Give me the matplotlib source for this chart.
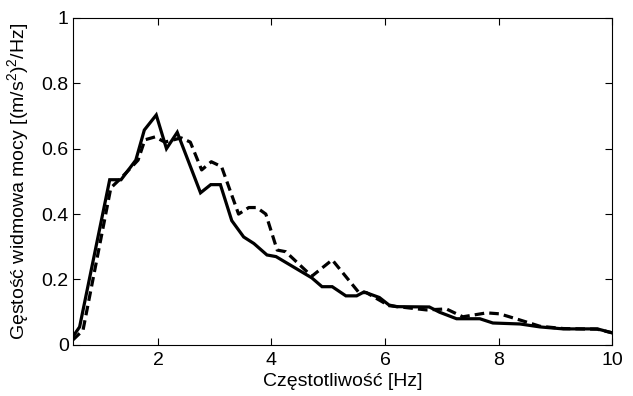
import numpy as np
import matplotlib
matplotlib.use('Agg')
import matplotlib.pyplot as plt

plt.rcParams['font.family'] = ['Liberation Sans', 'DejaVu Sans']
plt.rcParams['mathtext.fontset'] = 'custom'
plt.rcParams['mathtext.rm'] = 'Liberation Sans'
plt.rcParams['mathtext.it'] = 'Liberation Sans'

# solid curve
f_solid = [0.5, 0.62, 1.15, 1.35, 1.61, 1.76, 1.97, 2.15, 2.34, 2.75, 2.93, 3.1,
           3.3, 3.51, 3.69, 3.92, 4.08, 4.71, 4.89, 5.07, 5.31, 5.5, 5.63, 5.9,
           6.07, 6.2, 6.78, 6.96, 7.26, 7.67, 7.9, 8.38, 8.73, 9.14, 9.74, 10.0]
p_solid = [0.025, 0.055, 0.505, 0.505, 0.565, 0.657, 0.703, 0.60, 0.65, 0.465, 0.49, 0.49,
           0.38, 0.33, 0.31, 0.275, 0.27, 0.205, 0.178, 0.178, 0.15, 0.15, 0.162, 0.145,
           0.122, 0.117, 0.116, 0.10, 0.08, 0.08, 0.067, 0.064, 0.055, 0.049, 0.049, 0.037]

# dashed curve
f_dash = [0.5, 0.68, 1.17, 1.35, 1.65, 1.77, 1.95, 2.12, 2.41, 2.57, 2.77, 2.94, 3.12,
          3.42, 3.6, 3.74, 3.9, 4.1, 4.25, 4.71, 5.07, 5.54, 5.67, 6.07, 6.73, 7.08,
          7.37, 7.79, 8.02, 8.38, 8.73, 9.14, 9.74, 10.0]
p_dash = [0.015, 0.045, 0.48, 0.51, 0.565, 0.627, 0.636, 0.62, 0.633, 0.62, 0.535, 0.56, 0.545,
          0.40, 0.42, 0.42, 0.40, 0.29, 0.285, 0.21, 0.26, 0.16, 0.16, 0.12, 0.107, 0.11,
          0.086, 0.098, 0.095, 0.076, 0.057, 0.05, 0.048, 0.037]

fig = plt.figure(figsize=(6.33, 3.96), dpi=100)
ax = fig.add_axes([0.115, 0.129, 0.852, 0.826])
ax.plot(f_solid, p_solid, color='black', lw=2.3, solid_joinstyle='miter')
ax.plot(f_dash, p_dash, color='black', lw=2.3, ls=(0, (3, 1.6)))

ax.set_xlim(0.5, 10)
ax.set_ylim(0, 1)
ax.set_xticks([2, 4, 6, 8, 10])
ax.set_yticks([0, 0.2, 0.4, 0.6, 0.8, 1])
ax.set_yticklabels(['0', '0.2', '0.4', '0.6', '0.8', '1'])
ax.tick_params(direction='in', top=True, right=True, labelsize=14, length=5, width=0.8)
ax.tick_params(axis='x', pad=5)
ax.tick_params(axis='y', pad=3)
for s in ax.spines.values():
    s.set_linewidth(0.8)

ax.set_xlabel('Częstotliwość [Hz]', fontsize=14)
ax.set_ylabel('Gęstość widmowa mocy [(m/s$^2$)$^2$/Hz]', fontsize=14)
ax.xaxis.set_label_coords(0.5, -0.085)
ax.yaxis.set_label_coords(-0.078, 0.5)

fig.savefig('out.png', dpi=100)
